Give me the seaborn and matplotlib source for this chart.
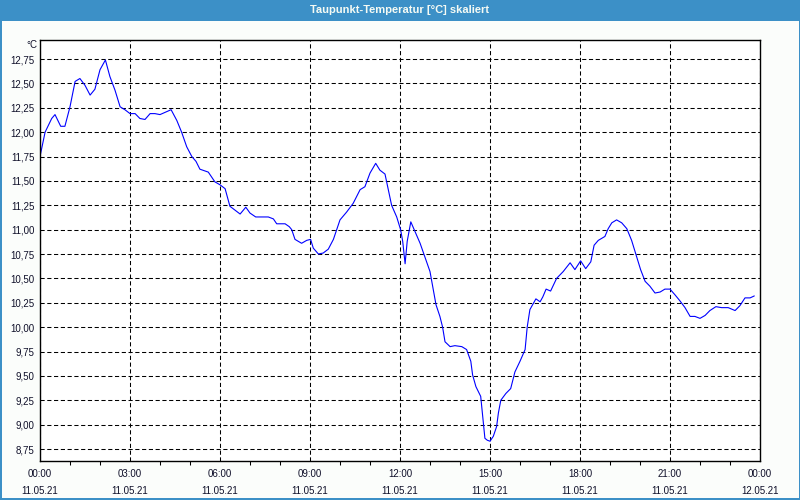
import matplotlib
matplotlib.use("Agg")
import matplotlib.pyplot as plt
from matplotlib.patches import Rectangle
from matplotlib.ticker import MultipleLocator, FixedLocator
import seaborn as sns
import pandas as pd

hours = [0.00, 0.17, 0.39, 0.50, 0.69, 0.83, 1.00, 1.17, 1.33, 1.50, 1.67, 1.83,
         2.00, 2.18, 2.33, 2.50, 2.67, 2.83, 3.00, 3.17, 3.33, 3.50, 3.67, 3.83,
         4.00, 4.37, 4.56, 4.72, 4.89, 5.06, 5.20, 5.33, 5.61, 5.83, 6.00, 6.17,
         6.33, 6.50, 6.67, 6.86, 7.00, 7.19, 7.44, 7.61, 7.78, 7.89, 8.17, 8.31,
         8.39, 8.50, 8.72, 8.89, 9.02, 9.11, 9.28, 9.44, 9.61, 9.78, 10.00, 10.22,
         10.44, 10.67, 10.83, 11.00, 11.19, 11.33, 11.50, 11.61, 11.72, 11.89, 12.02, 12.09,
         12.17, 12.24, 12.36, 12.50, 12.67, 12.83, 13.00, 13.11, 13.20, 13.33, 13.42, 13.50,
         13.67, 13.83, 14.06, 14.22, 14.36, 14.42, 14.53, 14.69, 14.76, 14.83, 14.91, 15.00,
         15.11, 15.22, 15.28, 15.36, 15.53, 15.69, 15.83, 16.00, 16.17, 16.24, 16.33, 16.42,
         16.53, 16.67, 16.76, 16.87, 17.02, 17.22, 17.44, 17.67, 17.83, 18.02, 18.19, 18.36,
         18.47, 18.61, 18.83, 18.94, 19.06, 19.22, 19.39, 19.56, 19.72, 19.89, 20.02, 20.17,
         20.33, 20.50, 20.67, 20.83, 21.00, 21.17, 21.33, 21.50, 21.67, 21.83, 22.00, 22.17,
         22.33, 22.53, 22.72, 22.94, 23.17, 23.33, 23.50, 23.67, 23.81]

dewpoint = [11.75, 12.00, 12.14, 12.18, 12.06, 12.06, 12.26, 12.52, 12.55, 12.48, 12.38, 12.44,
            12.64, 12.74, 12.57, 12.43, 12.26, 12.23, 12.19, 12.19, 12.14, 12.13, 12.19, 12.19,
            12.18, 12.23, 12.12, 12.00, 11.85, 11.75, 11.70, 11.62, 11.59, 11.49, 11.46, 11.42,
            11.24, 11.20, 11.16, 11.23, 11.17, 11.13, 11.13, 11.13, 11.11, 11.06, 11.06, 11.03,
            11.00, 10.90, 10.86, 10.89, 10.90, 10.81, 10.75, 10.76, 10.80, 10.90, 11.10, 11.18,
            11.27, 11.41, 11.44, 11.58, 11.68, 11.61, 11.57, 11.41, 11.25, 11.13, 11.00, 10.88,
            10.65, 10.88, 11.08, 10.98, 10.86, 10.72, 10.57, 10.38, 10.23, 10.11, 10.00, 9.85,
            9.80, 9.81, 9.80, 9.77, 9.65, 9.51, 9.39, 9.29, 9.08, 8.86, 8.84, 8.83,
            8.88, 8.98, 9.12, 9.25, 9.32, 9.37, 9.54, 9.65, 9.77, 10.00, 10.18, 10.23,
            10.29, 10.26, 10.31, 10.39, 10.37, 10.50, 10.57, 10.66, 10.59, 10.68, 10.60, 10.67,
            10.84, 10.89, 10.93, 11.01, 11.07, 11.10, 11.07, 11.01, 10.89, 10.72, 10.59, 10.47,
            10.42, 10.35, 10.36, 10.39, 10.39, 10.33, 10.27, 10.20, 10.11, 10.11, 10.09, 10.12,
            10.17, 10.21, 10.20, 10.20, 10.17, 10.22, 10.30, 10.30, 10.32]

xtick_hours = [0, 3, 6, 9, 12, 15, 18, 21, 24]
xtick_labels = ["00:00\n11.05.21", "03:00\n11.05.21", "06:00\n11.05.21", "09:00\n11.05.21",
                "12:00\n11.05.21", "15:00\n11.05.21", "18:00\n11.05.21", "21:00\n11.05.21",
                "00:00\n12.05.21"]
ytick_values = [8.75, 9.00, 9.25, 9.50, 9.75, 10.00, 10.25, 10.50, 10.75, 11.00,
                11.25, 11.50, 11.75, 12.00, 12.25, 12.50, 12.75]
ytick_labels = ["8,75", "9,00", "9,25", "9,50", "9,75", "10,00", "10,25", "10,50", "10,75",
                "11,00", "11,25", "11,50", "11,75", "12,00", "12,25", "12,50", "12,75"]
title = "Taupunkt-Temperatur [°C] skaliert"
unit = "°C"

sns.set_style("white")
plt.rcParams['font.family'] = ['Liberation Sans', 'DejaVu Sans']

df = pd.DataFrame({"h": hours, "v": dewpoint})

fig = plt.figure(figsize=(8, 5), dpi=100, facecolor="#fbfdfb")
ax = fig.add_axes([40 / 800, 1 - 461 / 500, 720 / 800, 421 / 500])
ax.set_facecolor("white")

sns.lineplot(data=df, x="h", y="v", ax=ax, color="#0000ff", linewidth=0.8,
             sort=False, estimator=None)

ax.set_xlim(0, 24)
ax.set_ylim(8.627, 12.945)
ax.xaxis.set_major_locator(FixedLocator(xtick_hours))
ax.xaxis.set_minor_locator(MultipleLocator(1))
ax.set_xticklabels(xtick_labels)
ax.set_yticks(ytick_values)
ax.set_yticklabels(ytick_labels)
ax.set_xlabel("")
ax.set_ylabel("")

ax.grid(True, which="major", color="black", linestyle=(0, (4, 2.5)), linewidth=0.75)
ax.tick_params(axis="x", which="major", direction="out", length=4, width=0.75,
               colors="black", labelsize=7, pad=1.8)
ax.tick_params(axis="x", which="minor", direction="out", length=3, width=0.75,
               colors="black", bottom=True)
ax.tick_params(axis="y", which="major", length=0, labelsize=7, pad=4, colors="black")
for lab in ax.get_xticklabels():
    lab.set_linespacing(1.85)
    lab.set_color("#10102a")
for lab in ax.get_yticklabels():
    lab.set_color("#10102a")

for sp in ax.spines.values():
    sp.set_visible(True)
    sp.set_color("black")
    sp.set_linewidth(1.0)

blue = "#3c90c7"
fig.patches.append(Rectangle((0, 1 - 21 / 500), 1, 21 / 500, transform=fig.transFigure,
                             facecolor=blue, edgecolor="none", zorder=0))
fig.patches.append(Rectangle((0, 0), 1.5 / 800, 1, transform=fig.transFigure,
                             facecolor=blue, edgecolor="none"))
fig.patches.append(Rectangle((1 - 1.5 / 800, 0), 1.5 / 800, 1, transform=fig.transFigure,
                             facecolor=blue, edgecolor="none"))
fig.patches.append(Rectangle((0, 0), 1, 2 / 500, transform=fig.transFigure,
                             facecolor=blue, edgecolor="none"))
fig.text(0.5, 1 - 10 / 500, title, ha="center", va="center", color="#f4faf4",
         fontsize=8, fontweight="bold")
fig.text(37 / 800, 1 - 45 / 500, unit, ha="right", va="center", color="#10102a", fontsize=7)

fig.savefig("out.png", dpi=100, facecolor=fig.get_facecolor())
